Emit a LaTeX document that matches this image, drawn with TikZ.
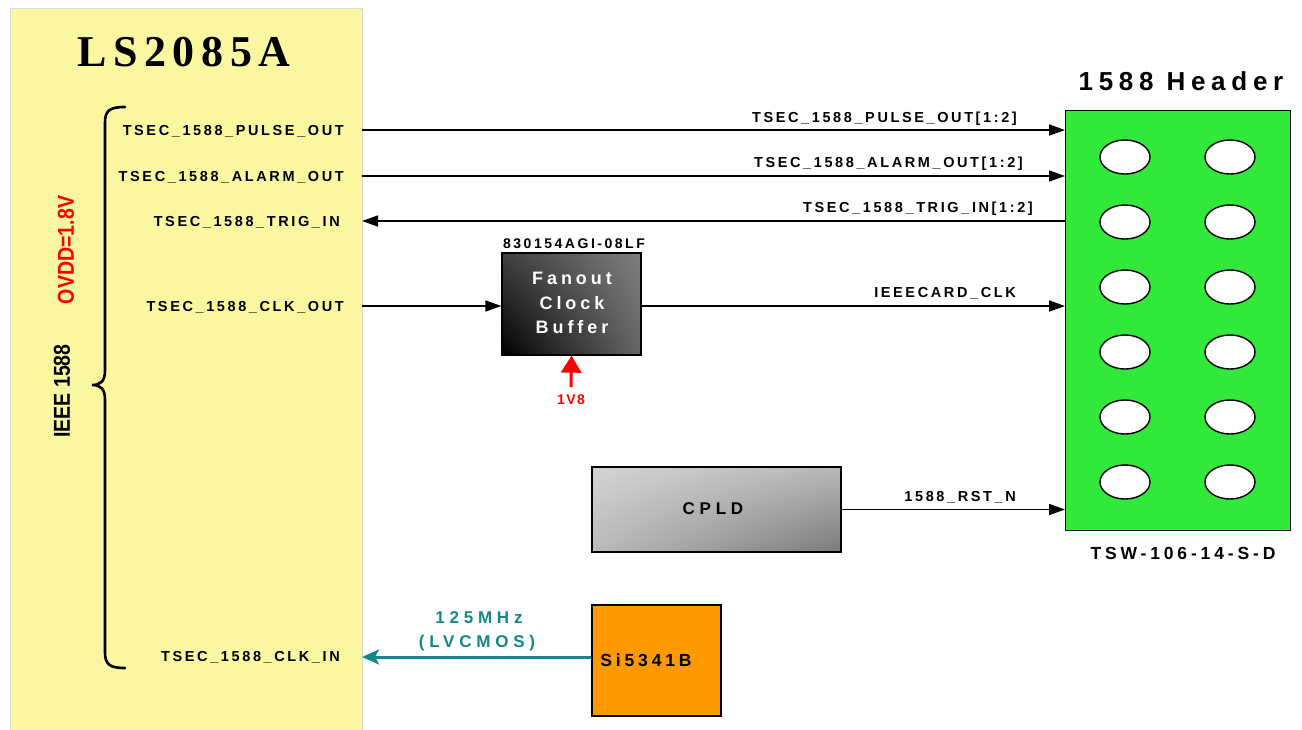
\documentclass[tikz,border=0pt]{standalone}
\usepackage{fontspec}
\usepackage{graphicx}
\setmainfont{Liberation Sans}
\newfontfamily\sigf{Liberation Sans}[LetterSpace=18]
\newfontfamily\boxf{Liberation Sans}[LetterSpace=22]
\newfontfamily\cpldf{Liberation Sans}[LetterSpace=28]
\newfontfamily\smallf{Liberation Sans}[LetterSpace=10]
\newfontfamily\titlef{Liberation Serif}[LetterSpace=15]
\usetikzlibrary{arrows.meta,shadings}
\definecolor{socyellow}{RGB}{250,247,160}
\definecolor{hdrgreen}{RGB}{50,232,58}
\definecolor{siorange}{RGB}{255,153,0}
\definecolor{clkteal}{RGB}{20,135,135}
\tikzset{
  capc/.style={inner sep=0pt, text height=#1, text depth=0pt},
  lbl/.style={capc=10.4pt, font=\sigf\bfseries\fontsize{14.5}{16}\selectfont},
  sigline/.style={line width=1.6pt, -{Triangle[length=16pt,width=11pt]}},
  blk/.style={draw=black, line width=1.3pt, inner sep=0pt},
  pin/.style={draw=black, line width=1.4pt, fill=white},
  vlabel/.style={rotate=90, inner sep=0pt, font=\bfseries\fontsize{23}{26}\selectfont},
  teallbl/.style={text=clkteal, capc=12.2pt, font=\cpldf\bfseries\fontsize{17}{20}\selectfont}
}
\begin{document}
\begin{tikzpicture}[x=1pt,y=-1pt]
\useasboundingbox (0,0) rectangle (1302,729);
\fill[white] (0,0) rectangle (1302,729);

% SoC block
\node[draw=black!15, fill=socyellow, minimum width=352pt, minimum height=735pt, anchor=north west, inner sep=0pt] (soc) at (10,8) {};
\node[capc=29pt, font=\titlef\bfseries\fontsize{44}{48}\selectfont] (title) at (184,52) {LS2085A};

% brace
\draw[line width=2.6pt, line cap=round] (125,107) .. controls (109,107) and (105,111) .. (105,123)
  -- (105,370) .. controls (105,381) and (101,385) .. (92,385)
  .. controls (101,385) and (105,389) .. (105,400)
  -- (105,652) .. controls (105,664) and (109,668) .. (125,668);
\node[vlabel, text=red] (ovdd) at (66,250) {\scalebox{0.85}[1]{OVDD=1.8V}};
\node[vlabel] (ieee) at (62,391) {\scalebox{0.85}[1]{IEEE 1588}};

% SoC signal labels
\node[lbl, anchor=east] (lpulse) at (344,130) {TSEC\_1588\_PULSE\_OUT};
\node[lbl, anchor=east] (lalarm) at (344,176) {TSEC\_1588\_ALARM\_OUT};
\node[lbl, anchor=east] (ltrig) at (340,221) {TSEC\_1588\_TRIG\_IN};
\node[lbl, anchor=east] (lclko) at (344,306) {TSEC\_1588\_CLK\_OUT};
\node[lbl, anchor=east] (lclki) at (340,656) {TSEC\_1588\_CLK\_IN};

% header
\node[blk, fill=hdrgreen, minimum width=225pt, minimum height=420pt, anchor=north west] (hdr) at (1065,110) {};
\foreach \r in {0,...,5} {
  \draw[pin] (1125,157+65*\r) ellipse [x radius=25pt, y radius=17pt];
  \draw[pin] (1230,157+65*\r) ellipse [x radius=25pt, y radius=17pt];
}
\node[capc=18.6pt, font=\boxf\bfseries\fontsize{26}{29}\selectfont] (hdrtitle) at (1181,81) {1588 Header};
\node[capc=12.5pt, font=\boxf\bfseries\fontsize{17.5}{20}\selectfont] (hdrpart) at (1183,553) {TSW-106-14-S-D};

% fanout buffer
\node[blk, minimum width=139pt, minimum height=102pt, upper left=black!75, upper right=black!50, lower left=black, lower right=black!60] (buf) at (571.5,304) {};
\node[align=center, text=white, inner sep=0pt, font=\boxf\bfseries\fontsize{18}{24.5}\selectfont] (buftxt) at (572,303) {Fanout\\Clock\\Buffer};
\node[capc=10pt, font=\sigf\bfseries\fontsize{14}{16}\selectfont] (bufpart) at (574,243) {830154AGI-08LF};
\coordinate (v18) at (571,387);
\draw[red, line width=3pt, -{Triangle[length=17pt,width=20pt]}] (v18) -- (buf.south);
\node[text=red, capc=10pt, font=\smallf\bfseries\fontsize{14}{16}\selectfont] (v18t) at (571,399) {1V8};

% CPLD
\node[blk, minimum width=249pt, minimum height=85pt, upper left=black!17, upper right=black!28, lower left=black!27, lower right=black!52] (cpld) at (716.5,509.5) {};
\node[capc=12.2pt, font=\cpldf\bfseries\fontsize{17}{20}\selectfont] (cpldtxt) at (713,508) {CPLD};

% Si5341B
\node[blk, fill=siorange, minimum width=129pt, minimum height=111pt] (si) at (656.5,660.5) {};
\node[capc=12.5pt, font=\boxf\bfseries\fontsize{17.5}{20}\selectfont] (sitxt) at (646,660) {Si5341B};

% connectors
\coordinate (spulse) at (362,130);
\coordinate (salarm) at (362,176);
\coordinate (strig) at (362,221);
\coordinate (sclko) at (362,306);
\coordinate (sclki) at (362,657);
\draw[sigline] (spulse) -- (spulse -| hdr.west);
\draw[sigline] (salarm) -- (salarm -| hdr.west);
\draw[sigline] (strig -| hdr.west) -- (strig);
\draw[sigline] (sclko) -- (sclko -| buf.west);
\draw[sigline] (sclko -| buf.east) -- (sclko -| hdr.west);
\draw[sigline] (cpld.east) -- (cpld.east -| hdr.west);
\draw[clkteal, line width=3pt, -{Stealth[length=17pt,width=15pt,inset=4pt]}] (sclki -| si.west) -- (sclki);

% connector labels
\node[lbl, anchor=east] (tpulse) at (1017,117) {TSEC\_1588\_PULSE\_OUT[1:2]};
\node[lbl, anchor=east] (talarm) at (1023,162) {TSEC\_1588\_ALARM\_OUT[1:2]};
\node[lbl, anchor=east] (ttrig) at (1033,207) {TSEC\_1588\_TRIG\_IN[1:2]};
\node[lbl, anchor=east] (tclk) at (1016,292) {IEEECARD\_CLK};
\node[lbl, anchor=east] (trst) at (1016,496) {1588\_RST\_N};
\node[teallbl] (tfreq) at (479,617) {125MHz};
\node[teallbl] (tfreq2) at (477,641) {(LVCMOS)};
\end{tikzpicture}
\end{document}
